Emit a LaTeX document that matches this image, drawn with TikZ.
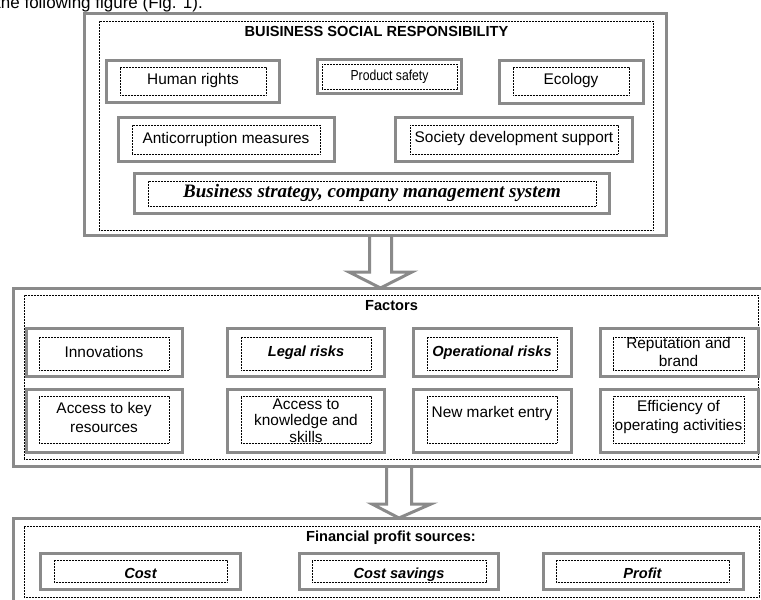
\documentclass[tikz,border=0pt]{standalone}
\usepackage{fontspec}
\setmainfont{Liberation Sans}
\newfontfamily\timesf{Liberation Serif}
\usetikzlibrary{fit,calc}
\pgfdeclarelayer{background}
\pgfsetlayers{background,main}
\definecolor{bgray}{RGB}{138,138,138}
\tikzset{
  obox/.style={draw=bgray, line width=3.2pt, fill=white, inner sep=0pt},
  frame/.style={draw=bgray, line width=3pt, fill=white, inner sep=0pt},
  ibox/.style={draw=black, line width=0.7pt, dash pattern=on 0.7pt off 0.8pt, inner sep=0pt},
  txt/.style={font=\fontsize{15.4}{19}\selectfont, align=center, inner sep=0pt},
  btxt/.style={font=\fontsize{14.6}{17}\selectfont\bfseries, inner sep=0pt, anchor=base},
  bitxt/.style={font=\fontsize{14.6}{17}\selectfont\bfseries\itshape, inner sep=0pt, anchor=base},
  blockarrow/.style={draw=bgray, line width=3pt, fill=white, line join=miter},
}
\begin{document}
\begin{tikzpicture}[x=1pt,y=-1pt]
\useasboundingbox (0,0) rectangle (761,600);
\clip (0,0) rectangle (761,600);
\node[anchor=base west, font=\fontsize{17}{20}\selectfont, inner sep=0pt] (intro) at (-4,8.5) {the following figure (Fig. 1).};

% ---------- top frame ----------
\node[frame, fit={(84.5,13.5) (666.5,235.5)}] (bsr) {};
\node[ibox, fit={(99,21) (653,230)}] (bsri) {};
\node[btxt] (bsrt) at (376.5,36) {BUISINESS SOCIAL RESPONSIBILITY};

\node[obox, fit={(106.5,60.5) (279.5,102.5)}] (hro) {};
\node[ibox, fit={(120,67) (266,95)}] (hri) {};
\node[txt] (hrt) at (hri.center) {Human rights};

\node[obox, fit={(317.5,59.5) (461.5,93.5)}] (pso) {};
\node[ibox, fit={(322,64) (457,89)}] (psi) {};
\node[txt, font=\fontsize{14.5}{16}\selectfont] (pst) at (389.5,77) {\scalebox{0.84}[1]{Product safety}};

\node[obox, fit={(499.5,60.5) (643.5,103.5)}] (eco) {};
\node[ibox, fit={(513,67) (629,95)}] (eci) {};
\node[txt] (ect) at (571,81) {Ecology};

\node[obox, fit={(118.5,117.5) (334.5,161.5)}] (aco) {};
\node[ibox, fit={(132,125) (320,154)}] (aci) {};
\node[txt] (act) at (aci.center) {Anticorruption measures};

\node[obox, fit={(395.5,117.5) (632.5,161.5)}] (sdo) {};
\node[ibox, fit={(410,125) (618,154)}] (sdi) {};
\node[txt] (sdt) at (514,139) {Society development support};

\node[obox, fit={(134.5,173.5) (609.5,213.5)}] (bso) {};
\node[ibox, fit={(148,181) (596,206)}] (bsi) {};
\node[inner sep=0pt, font=\timesf\fontsize{19}{22}\selectfont\bfseries\itshape] (bst) at (372,192.5) {Business strategy, company management system};

% ---------- factors frame ----------
\node[frame, fit={(13.5,288.5) (766,466.5)}] (fac) {};
\node[ibox, fit={(24,295) (758,459)}] (faci) {};
\node[btxt] (fact) at (391.5,310) {Factors};

\node[obox, fit={(26.5,328.5) (182.5,376.5)}] (ino) {};
\node[ibox, fit={(39,337) (169,370)}] (ini) {};
\node[txt] (int) at (104,352) {Innovations};

\node[obox, fit={(227.5,328.5) (384.5,376.5)}] (lro) {};
\node[ibox, fit={(241,337) (371,370)}] (lri) {};
\node[bitxt] (lrt) at (306,356.5) {Legal risks};

\node[obox, fit={(413.5,328.5) (571.5,376.5)}] (oro) {};
\node[ibox, fit={(427,337) (557,370)}] (ori) {};
\node[bitxt] (ort) at (492,356.5) {Operational risks};

\node[obox, fit={(600.5,328.5) (758.5,376.5)}] (rbo) {};
\node[ibox, fit={(613,337) (744,370)}] (rbi) {};
\node[txt, font=\fontsize{15.4}{18}\selectfont] (rbt) at (678.5,352) {Reputation and\\brand};

\node[obox, fit={(26.5,389.5) (182.5,452.5)}] (ako) {};
\node[ibox, fit={(39,396) (169,443)}] (aki) {};
\node[txt] (akt) at (104,417.5) {Access to key\\resources};

\node[obox, fit={(227.5,389.5) (384.5,452.5)}] (kso) {};
\node[ibox, fit={(241,396) (371,443)}] (ksi) {};
\node[txt, font=\fontsize{15.4}{16.5}\selectfont] (kst) at (306,420.5) {Access to\\knowledge and\\skills};

\node[obox, fit={(413.5,389.5) (571.5,452.5)}] (nmo) {};
\node[ibox, fit={(427,396) (557,443)}] (nmi) {};
\node[txt] (nmt) at (492,413.5) {New market entry};

\node[obox, fit={(600.5,389.5) (758.5,452.5)}] (efo) {};
\node[ibox, fit={(613,396) (744,443)}] (efi) {};
\node[txt] (eft) at (678.5,417.5) {Efficiency of\\operating activities};

% ---------- financial frame ----------
\node[frame, fit={(13.5,518.5) (766,604)}] (fin) {};
\node[ibox, fit={(24,526) (759,597)}] (fini) {};
\node[btxt] (fint) at (391,541) {Financial profit sources:};

\node[obox, fit={(40.5,553.5) (240.5,589.5)}] (coo) {};
\node[ibox, fit={(54,560) (227,582)}] (coi) {};
\node[bitxt] (cot) at (140.5,578) {Cost};

\node[obox, fit={(299.5,553.5) (498.5,589.5)}] (cso) {};
\node[ibox, fit={(312,560) (486,582)}] (csi) {};
\node[bitxt] (cst) at (399,578) {Cost savings};

\node[obox, fit={(543.5,553.5) (743.5,589.5)}] (pro) {};
\node[ibox, fit={(556,560) (729,582)}] (pri) {};
\node[bitxt] (prt) at (642.5,578) {Profit};

% ---------- block arrows ----------
\coordinate (a1) at (380.5,0);
\coordinate (a2) at (399,0);
\begin{pgfonlayer}{background}
\draw[blockarrow] ($(a1|-bsr.south)+(-11,-2)$) -- ($(a1|-bsr.south)+(-11,35)$) -- ($(a1|-bsr.south)+(-31.5,35)$)
   -- ($(a1|-fac.north)+(0,1)$) -- ($(a1|-bsr.south)+(31.5,35)$) -- ($(a1|-bsr.south)+(11,35)$) -- ($(a1|-bsr.south)+(11,-2)$);
\draw[blockarrow] ($(a2|-fac.south)+(-12.5,-2)$) -- ($(a2|-fac.south)+(-12.5,36)$) -- ($(a2|-fac.south)+(-27,36)$)
   -- ($(a2|-fin.north)+(0,1)$) -- ($(a2|-fac.south)+(32,36)$) -- ($(a2|-fac.south)+(12.5,36)$) -- ($(a2|-fac.south)+(12.5,-2)$);
\end{pgfonlayer}
\end{tikzpicture}
\end{document}
